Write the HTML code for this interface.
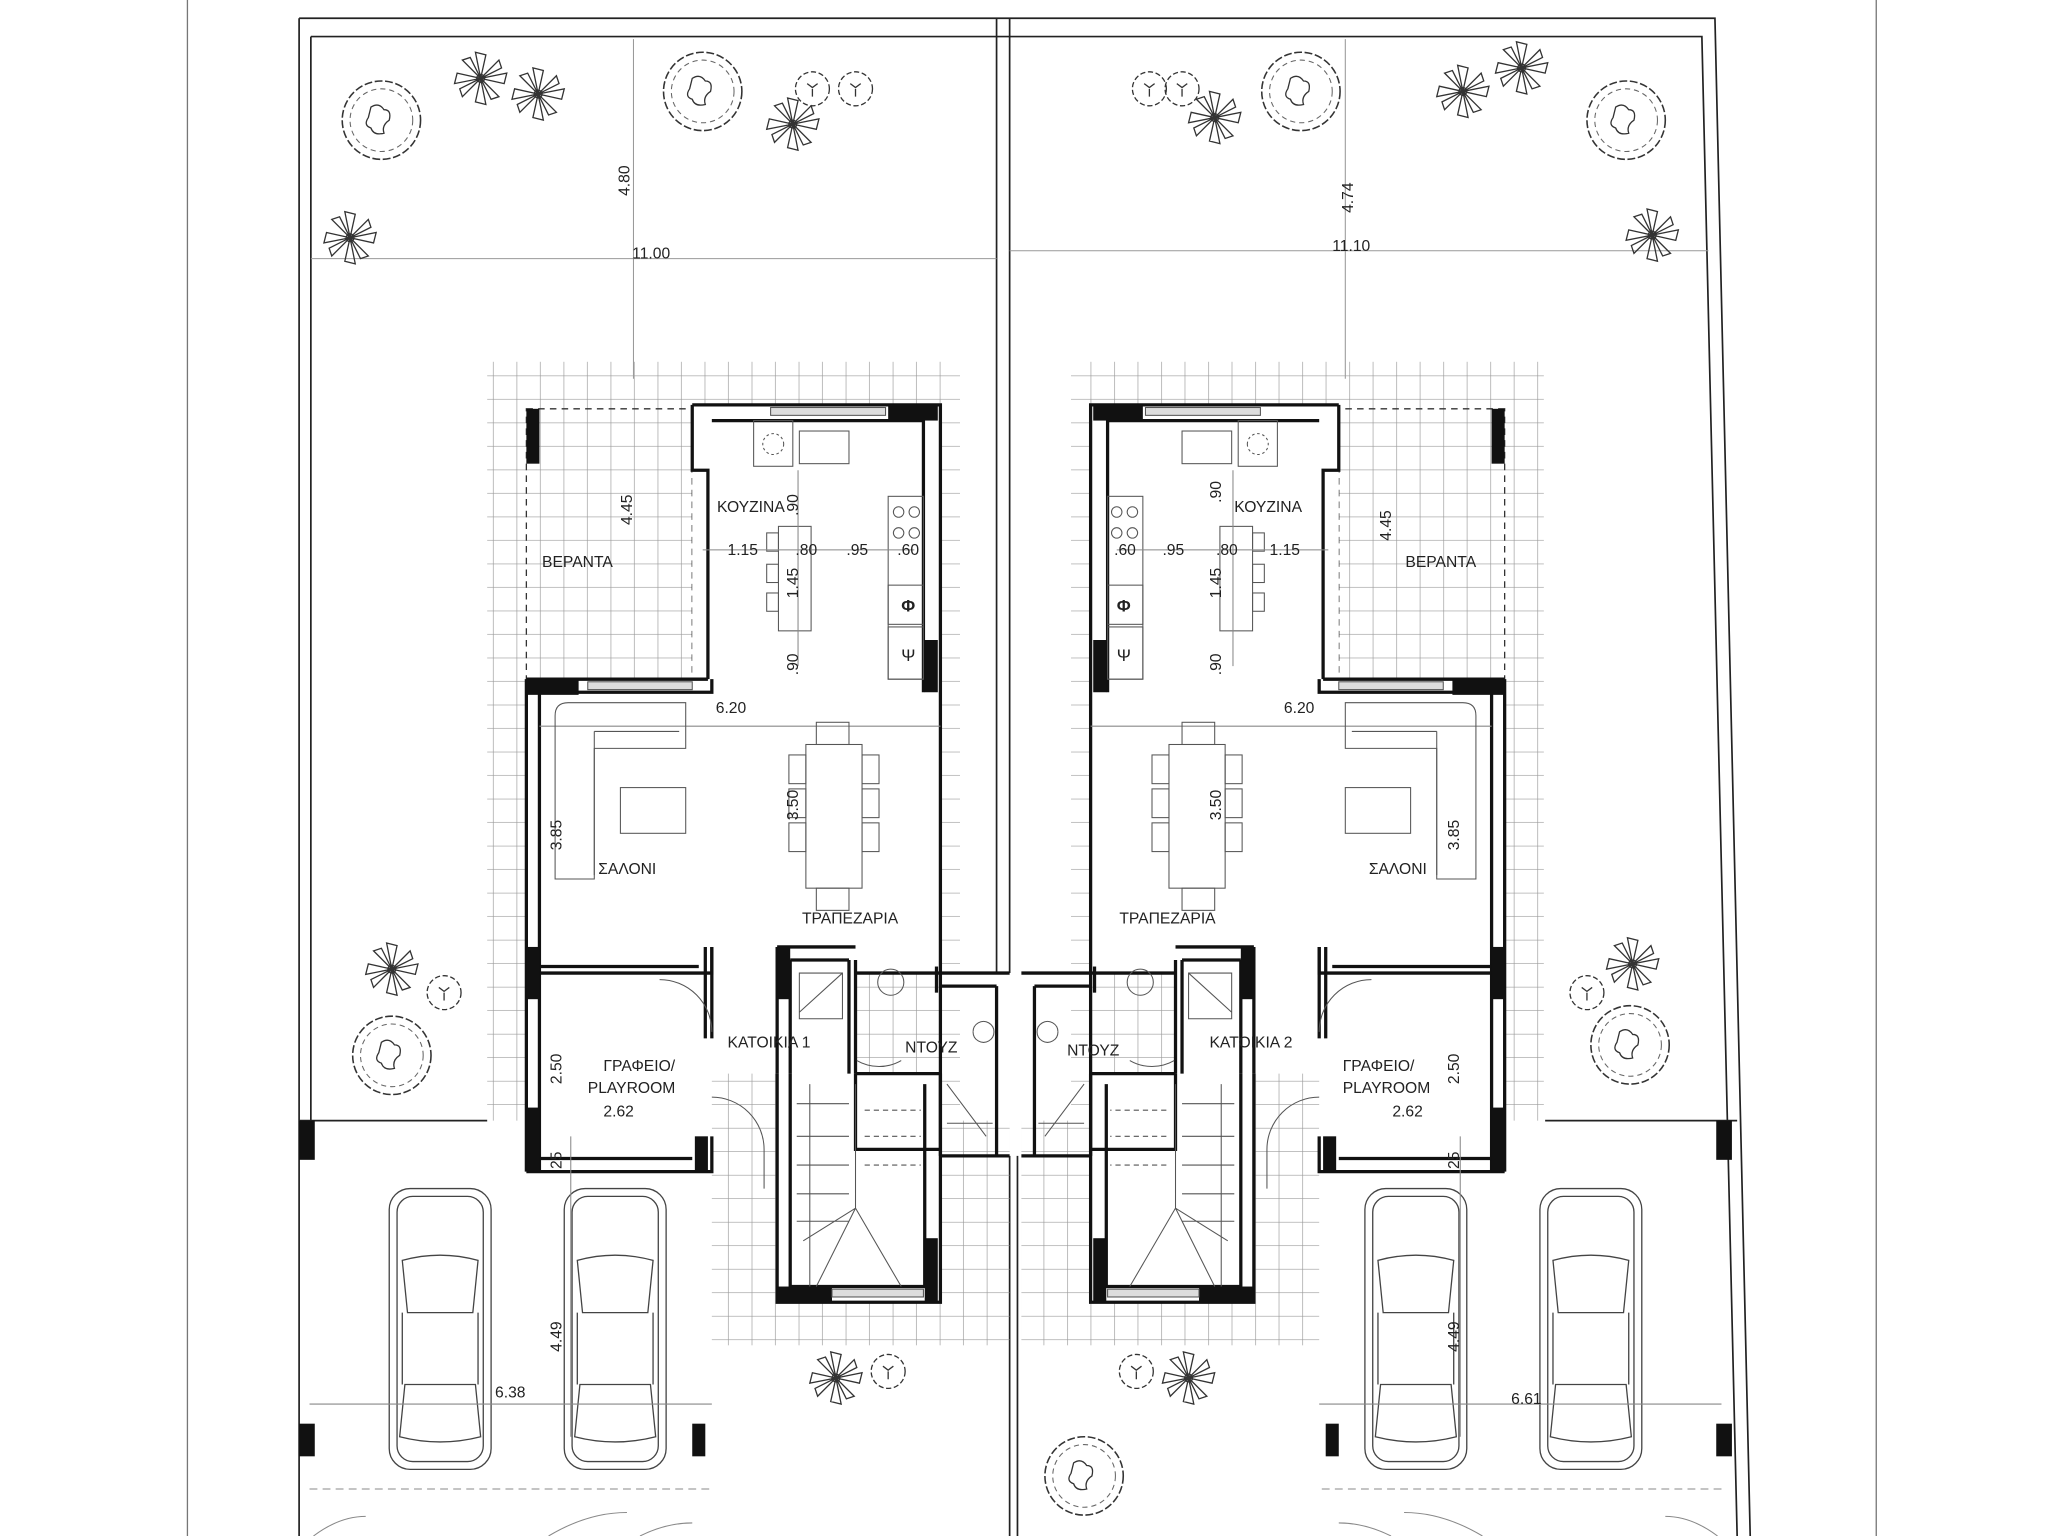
<!DOCTYPE html>
<html><head><meta charset="utf-8"><style>
html,body{margin:0;padding:0;background:#fff;}
svg{display:block;}
text{font-family:"Liberation Sans",sans-serif;fill:#222;}
</style></head><body>
<svg width="2048" height="1536" viewBox="0 0 1568 1176" xmlns="http://www.w3.org/2000/svg">
<defs>
<pattern id="tile" width="18" height="18" patternUnits="userSpaceOnUse">
<path d="M18 0V18M0 18H18" stroke="#9a9a9a" stroke-width="1" fill="none"/>
</pattern>
<g id="tree">
<circle r="30" fill="none" stroke="#333" stroke-width="1.2" stroke-dasharray="6 2"/>
<circle r="24" fill="none" stroke="#666" stroke-width="0.8" stroke-dasharray="4 3"/>
<path d="M-8-10q6-4 10 2q6 0 4 8q-6 4-4 10q-8 2-10-4q-6-2-2-8z" fill="none" stroke="#333" stroke-width="1"/>
</g>
<g id="small">
<circle r="13" fill="none" stroke="#333" stroke-width="1" stroke-dasharray="4 2"/>
<path d="M-4-4l4 3l4-3M0 0v6" stroke="#333" fill="none"/>
</g>
<g id="palm" stroke="#333" stroke-width="1" fill="none">
<path d="M0 0L20 -4L18 4Z M0 0L-20 4L-18 -4Z M0 0L4 20L-4 18Z M0 0L-4 -20L4 -18Z M0 0L14 14L8 16Z M0 0L-14 -14L-8 -16Z M0 0L-14 14L-16 8Z M0 0L14 -14L16 -8Z"/>
<circle r="3"/>
</g>
<g id="car" stroke="#444" stroke-width="1" fill="none">
<rect x="0" y="0" width="78" height="215" rx="16"/>
<rect x="6" y="6" width="66" height="203" rx="12"/>
<path d="M10 55q29-8 58 0l-4 40h-50z M12 150h54l4 40q-31 8-62 0z"/>
<path d="M10 95v55M68 95v55"/>
</g>
<g id="house">
<rect x="373" y="277" width="362" height="581" fill="url(#tile)"/>
<rect x="545" y="858" width="228" height="172" fill="url(#tile)"/>
<rect x="403" y="313" width="127" height="207" fill="none" stroke="#333" stroke-dasharray="5 4"/>
<path d="M530 310H720V530H720V745H655V822H720V997H595V822H545V897H403V520H530Z" fill="#fff"/>
<g stroke="#111" fill="none" stroke-width="2.5">
<path d="M530 310H720V745M545 322H707V530"/>
<path d="M530 310V360H542V520M403 520H542M413 530H545V520"/>
<path d="M403 520V897M413 530V897"/>
<path d="M403 897H545V870M403 887H530"/>
<path d="M413 745H545V725M413 740H535"/>
<path d="M545 725V795M540 725V795"/>
<path d="M595 725V822M605 735V822M595 725H655M605 735H650"/>
<path d="M650 735V822M655 735V822M655 745H720M655 822H720"/>
<path d="M720 745V885M655 822V880H720"/>
<path d="M595 822V997H720V822M605 822V985H708V830"/>
<path d="M720 745H773M720 755H763M763 755V885M720 885H773"/>
<path d="M717 740V760"/>
</g>
<g fill="#111">
<rect x="403" y="313" width="10" height="42"/>
<rect x="680" y="310" width="38" height="12"/>
<rect x="708" y="490" width="10" height="40"/>
<rect x="403" y="520" width="40" height="12"/>
<rect x="403" y="725" width="10" height="40"/>
<rect x="403" y="848" width="10" height="49"/>
<rect x="532" y="870" width="10" height="27"/>
<rect x="595" y="725" width="10" height="40"/>
<rect x="595" y="985" width="42" height="12"/>
<rect x="708" y="948" width="10" height="49"/>
<rect x="229" y="858" width="12" height="30"/>
<rect x="229" y="1090" width="12" height="25"/>
<rect x="530" y="1090" width="10" height="25"/>
</g>
<g stroke="#555" fill="#ddd" stroke-width="0.8">
<rect x="590" y="312" width="88" height="6"/>
<rect x="450" y="522" width="80" height="6"/>
<rect x="637" y="987" width="70" height="6"/>
</g>
<g stroke="#555" fill="none" stroke-width="0.8">
<rect x="577" y="322" width="30" height="35"/>
<circle cx="592" cy="340" r="8" stroke-dasharray="2 2"/>
<rect x="612" y="330" width="38" height="25"/>
<rect x="680" y="380" width="27" height="140"/>
<circle cx="688" cy="392" r="4"/><circle cx="700" cy="392" r="4"/><circle cx="688" cy="408" r="4"/><circle cx="700" cy="408" r="4"/>
<rect x="680" y="448" width="27" height="30"/><rect x="680" y="480" width="27" height="40"/>
<rect x="596" y="403" width="25" height="80"/>
<rect x="587" y="408" width="9" height="14"/><rect x="587" y="432" width="9" height="14"/><rect x="587" y="454" width="9" height="14"/>
<path d="M538 421H700M611 360V510" stroke="#888"/>
<path d="M413 556H720" stroke="#888"/>
<path d="M425 548q0-10 10-10h90v35h-70v100h-30z"/>
<path d="M455 560h65M455 560v110"/>
<rect x="475" y="603" width="50" height="35"/>
<rect x="617" y="570" width="43" height="110"/>
<rect x="625" y="553" width="25" height="17"/><rect x="625" y="680" width="25" height="17"/>
<rect x="604" y="578" width="13" height="22"/><rect x="604" y="604" width="13" height="22"/><rect x="604" y="630" width="13" height="22"/>
<rect x="660" y="578" width="13" height="22"/><rect x="660" y="604" width="13" height="22"/><rect x="660" y="630" width="13" height="22"/>
<circle cx="682" cy="752" r="10"/>
<path d="M612 775L645 745M612 745H645V780H612Z"/>
<path d="M745 790a8 8 0 1 1 0 .1" />
<path d="M690 812a34 34 0 0 1-34 0" />
<path d="M505 750a40 40 0 0 1 40 40"/>
<path d="M545 840a40 40 0 0 1 40 40v30"/>
<path d="M610 845H650M610 870H650M610 892H650M610 914H650M610 935H650M620 830V985M655 830V925M655 925L625 985M655 925L690 985M655 925L615 950"/>
<path d="M662 850H705M662 870H705M662 892H705" stroke-dasharray="4 3"/>
<path d="M725 830L755 870M725 860H760"/>
</g>
<use href="#car" x="298" y="910"/>
<use href="#car" x="432" y="910"/>
<g stroke="#888" fill="none" stroke-width="0.8">
<path d="M237 1075H545M437 870V1100"/>
<path d="M237 1140H545" stroke-dasharray="6 4"/>
<path d="M240 1176q20-15 40-15M420 1176q30-18 60-18M490 1176q20-10 40-10"/>
</g>
</g>
</defs>

<path d="M143.5 0V1176M1436.5 0V1176" stroke="#777" stroke-width="1"/>
<g stroke="#222" fill="none" stroke-width="1.3">
<path d="M229 14H1313L1340 1176M238 28H1303L1330 1176"/>
<path d="M229 14V1176M238 28V858"/>
<path d="M229 858H373M1183 858H1330"/>
<path d="M763 14V745M773 14V745M773 885V1176M779 885V1176"/>
</g>
<g stroke="#999" stroke-width="0.8" fill="none">
<path d="M485 30V290M1030 30V290"/>
<path d="M238 198H763M773 192H1308"/>
</g>

<use href="#house"/>
<use href="#house" transform="translate(1555,0) scale(-1,1)"/>

<use href="#tree" x="292" y="92"/><use href="#tree" x="538" y="70"/>
<use href="#tree" x="996" y="70"/><use href="#tree" x="1245" y="92"/>
<use href="#tree" x="300" y="808"/><use href="#tree" x="1248" y="800"/>
<use href="#tree" x="830" y="1130"/>
<use href="#small" x="622" y="68"/><use href="#small" x="655" y="68"/>
<use href="#small" x="880" y="68"/><use href="#small" x="905" y="68"/>
<use href="#small" x="340" y="760"/><use href="#small" x="1215" y="760"/>
<use href="#small" x="680" y="1050"/><use href="#small" x="870" y="1050"/>
<use href="#palm" x="368" y="60"/><use href="#palm" x="412" y="72"/>
<use href="#palm" x="607" y="95"/><use href="#palm" x="930" y="90"/>
<use href="#palm" x="1120" y="70"/><use href="#palm" x="1165" y="52"/>
<use href="#palm" x="268" y="182"/><use href="#palm" x="1265" y="180"/>
<use href="#palm" x="300" y="742"/><use href="#palm" x="1250" y="738"/>
<use href="#palm" x="640" y="1055"/><use href="#palm" x="910" y="1055"/>

<g font-size="12">
<text x="484" y="198">11.00</text>
<text x="1020" y="192">11.10</text>
<text x="415" y="434">ΒΕΡΑΝΤΑ</text>
<text x="1076" y="434">ΒΕΡΑΝΤΑ</text>
<text x="549" y="392">ΚΟΥΖΙΝΑ</text>
<text x="945" y="392">ΚΟΥΖΙΝΑ</text>
<text x="557" y="425">1.15</text><text x="609" y="425">.80</text><text x="648" y="425">.95</text><text x="687" y="425">.60</text>
<text x="853" y="425">.60</text><text x="890" y="425">.95</text><text x="931" y="425">.80</text><text x="972" y="425">1.15</text>
<text x="548" y="546">6.20</text><text x="983" y="546">6.20</text>
<text x="458" y="669">ΣΑΛΟΝΙ</text><text x="1048" y="669">ΣΑΛΟΝΙ</text>
<text x="614" y="707">ΤΡΑΠΕΖΑΡΙΑ</text><text x="857" y="707">ΤΡΑΠΕΖΑΡΙΑ</text>
<text x="557" y="802">ΚΑΤΟΙΚΙΑ 1</text><text x="926" y="802">ΚΑΤΟΙΚΙΑ 2</text>
<text x="693" y="806">ΝΤΟΥΖ</text><text x="817" y="808">ΝΤΟΥΖ</text>
<text x="462" y="820">ΓΡΑΦΕΙΟ/</text><text x="450" y="837">PLAYROOM</text><text x="462" y="855">2.62</text>
<text x="1028" y="820">ΓΡΑΦΕΙΟ/</text><text x="1028" y="837">PLAYROOM</text><text x="1066" y="855">2.62</text>
<text x="379" y="1070">6.38</text><text x="1157" y="1075">6.61</text>
<text x="690" y="468" font-size="13" font-weight="bold">Φ</text>
<text x="690" y="506" font-size="13">Ψ</text>
<text x="855" y="468" font-size="13" font-weight="bold">Φ</text>
<text x="855" y="506" font-size="13">Ψ</text>
</g>
<g font-size="12">
<text transform="translate(482,150) rotate(-90)">4.80</text>
<text transform="translate(1036,163) rotate(-90)">4.74</text>
<text transform="translate(484,402) rotate(-90)">4.45</text>
<text transform="translate(1065,414) rotate(-90)">4.45</text>
<text transform="translate(611,395) rotate(-90)">.90</text>
<text transform="translate(935,385) rotate(-90)">.90</text>
<text transform="translate(611,517) rotate(-90)">.90</text>
<text transform="translate(935,517) rotate(-90)">.90</text>
<text transform="translate(611,458) rotate(-90)">1.45</text>
<text transform="translate(935,458) rotate(-90)">1.45</text>
<text transform="translate(611,628) rotate(-90)">3.50</text>
<text transform="translate(935,628) rotate(-90)">3.50</text>
<text transform="translate(430,651) rotate(-90)">3.85</text>
<text transform="translate(1117,651) rotate(-90)">3.85</text>
<text transform="translate(430,830) rotate(-90)">2.50</text>
<text transform="translate(1117,830) rotate(-90)">2.50</text>
<text transform="translate(430,895) rotate(-90)">25</text>
<text transform="translate(1117,895) rotate(-90)">25</text>
<text transform="translate(430,1035) rotate(-90)">4.49</text>
<text transform="translate(1117,1035) rotate(-90)">4.49</text>
</g>
</svg>
</body></html>
